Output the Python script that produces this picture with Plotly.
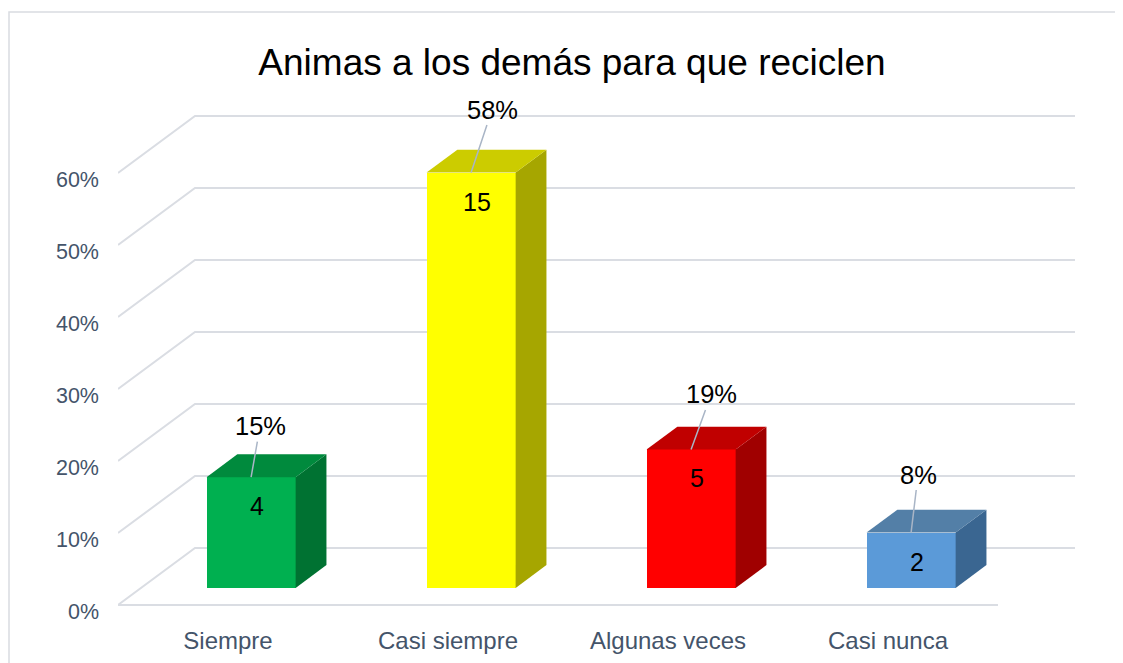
import plotly.graph_objects as go

# ---------------- data ----------------
categories = ["Siempre", "Casi siempre", "Algunas veces", "Casi nunca"]
counts = [4, 15, 5, 2]
total = sum(counts)
percents = [c / total * 100 for c in counts]
y_ticks = [0, 10, 20, 30, 40, 50, 60]

# ---------------- style ----------------
front_colors = ["#00B050", "#FFFF00", "#FF0000", "#5B9AD8"]
top_colors = ["#008A3D", "#CCCC00", "#C00000", "#537FA7"]
side_colors = ["#007232", "#A6A600", "#A00000", "#3A6691"]
pct_label_offsets = [(9, -51), (21, -63), (20, -55), (7, -58)]

FONT = "Liberation Sans, Arial, sans-serif"
AXIS_COLOR = "#44546A"
GRID_COLOR = "#DADDE3"

# oblique 3-D projection (depth in axis units)
DX, DY = 0.35, 7.92     # full depth offset
Z0, Z1 = 0.30, 0.70     # bar depth span
BAR_W = 0.405
X_RANGE = [-0.5, 3.5 + DX]
Y_RANGE = [-1.944, 71.53]
Y2_SHIFT = 0.83

FIG_W, FIG_H = 1115, 655
M_L, M_R, M_T, M_B = 110, 48, 82, 44
PLOT_W = FIG_W - M_L - M_R
PLOT_H = FIG_H - M_T - M_B

fig = go.Figure()

# front faces of the bars
xs_front = [i + Z0 * DX for i in range(len(categories))]
base = Z0 * DY
fig.add_trace(go.Bar(
    x=xs_front, y=percents, base=base, width=BAR_W,
    marker=dict(color=front_colors, line=dict(width=0)),
    hoverinfo="skip", showlegend=False,
))

ddx = (Z1 - Z0) * DX
ddy = (Z1 - Z0) * DY
for i, p in enumerate(percents):
    xl = xs_front[i] - BAR_W / 2
    xr = xs_front[i] + BAR_W / 2
    b0 = base
    t0 = base + p
    # side face
    fig.add_trace(go.Scatter(
        x=[xr, xr, xr + ddx, xr + ddx, xr],
        y=[b0, t0, t0 + ddy, b0 + ddy, b0],
        fill="toself", fillcolor=side_colors[i], mode="lines",
        line=dict(width=0, color=side_colors[i]),
        hoverinfo="skip", showlegend=False,
    ))
    # top face
    fig.add_trace(go.Scatter(
        x=[xl, xr, xr + ddx, xl + ddx, xl],
        y=[t0, t0, t0 + ddy, t0 + ddy, t0],
        fill="toself", fillcolor=top_colors[i], mode="lines",
        line=dict(width=0, color=top_colors[i]),
        hoverinfo="skip", showlegend=False,
    ))

# invisible trace to carry the tick-label axis
fig.add_trace(go.Scatter(x=[X_RANGE[0]], y=[Y2_SHIFT], yaxis="y2", mode="markers",
                         marker=dict(opacity=0), hoverinfo="skip", showlegend=False))

# gridlines (side wall + back wall) and floor front edge
shapes = []
for v in y_ticks:
    path = (f"M {X_RANGE[0]},{v} L {X_RANGE[0] + DX},{v + DY} "
            f"L {X_RANGE[1]},{v + DY}")
    shapes.append(dict(type="path", path=path, xref="x", yref="y", layer="below",
                       line=dict(color=GRID_COLOR, width=2)))
shapes.append(dict(type="line", xref="x", yref="y", layer="below",
                   x0=X_RANGE[0], y0=y_ticks[0], x1=len(categories) - 0.5, y1=y_ticks[0],
                   line=dict(color=GRID_COLOR, width=2)))
# chart border
shapes.append(dict(type="rect", xref="paper", yref="paper", layer="below",
                   x0=(1 - M_L) / PLOT_W, y0=-0.4, x1=1.3,
                   y1=(FIG_H - M_B - 4) / PLOT_H,
                   line=dict(color="#D9DCE1", width=1.5)))

annotations = []
for i, (c, p) in enumerate(zip(counts, percents)):
    top = base + p
    ax, ay = pct_label_offsets[i]
    annotations.append(dict(
        x=xs_front[i], y=top, xref="x", yref="y",
        text=f"{round(p)}%", showarrow=True, arrowhead=0, arrowwidth=1.5,
        arrowcolor="#A9B5C6", ax=ax, ay=ay, standoff=0,
        font=dict(family=FONT, size=25.5, color="#000000"),
    ))
    annotations.append(dict(
        x=xs_front[i], y=top, xref="x", yref="y",
        text=str(c), showarrow=False, xshift=6, yshift=-29,
        font=dict(family=FONT, size=25, color="#000000"),
    ))

fig.update_layout(
    width=FIG_W, height=FIG_H,
    margin=dict(l=M_L, r=M_R, t=M_T, b=M_B, autoexpand=False),
    paper_bgcolor="white", plot_bgcolor="white",
    title=dict(text="Animas a los demás para que reciclen",
               x=564 / FIG_W, xref="container", xanchor="center",
               y=1 - 54 / FIG_H, yref="container", yanchor="middle",
               font=dict(family=FONT, size=37, color="#000000")),
    xaxis=dict(range=X_RANGE, tickvals=list(range(len(categories))), ticktext=categories,
               showgrid=False, zeroline=False, showline=False, ticks="",
               ticklabelstandoff=5, automargin=False,
               tickfont=dict(family=FONT, size=24, color=AXIS_COLOR)),
    yaxis=dict(range=Y_RANGE, showticklabels=False, showgrid=False, zeroline=False,
               showline=False, ticks="", automargin=False),
    yaxis2=dict(range=[Y_RANGE[0] + Y2_SHIFT, Y_RANGE[1] + Y2_SHIFT], overlaying="y",
                side="left", tickvals=y_ticks, ticktext=[f"{v}%" for v in y_ticks],
                showgrid=False, zeroline=False, showline=False, ticks="",
                ticklabelstandoff=18, automargin=False,
                tickfont=dict(family=FONT, size=21.5, color=AXIS_COLOR)),
    shapes=shapes, annotations=annotations,
    showlegend=False, bargap=0,
)

fig.write_html("out.html")
